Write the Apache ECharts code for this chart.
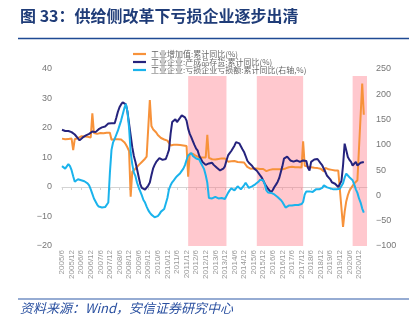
<!DOCTYPE html>
<html><head><meta charset="utf-8">
<script src="https://cdn.jsdelivr.net/npm/echarts@6/dist/echarts.min.js"></script>
<style>html,body{margin:0;padding:0;background:#fff}#c{width:412px;height:329px}</style>
</head><body><div id="c"></div>
<script>
// Monthly categories 2005/6 .. 2021/5
var firstYear = 2005, firstMonth = 6, monthCount = 192;
var categories = [];
for (var k = 0; k < monthCount; k++) {
  var mm = firstMonth - 1 + k;
  categories.push((firstYear + Math.floor(mm / 12)) + '/' + (mm % 12 + 1));
}

// 工业增加值:累计同比 (%)  — from 2005/6
var ivaCum = [
  16.4,16.3,16.2,16.3,16.3,16.4,16.4,
  12.5,16.2,16.7,16.6,16.9,17.2,17.2,17.1,17.0,17.0,16.8,16.8,
  25.0,18.3,18.3,18.0,18.1,18.3,18.4,18.2,18.4,18.4,18.4,18.4,
  16.0,15.8,16.2,16.2,16.2,16.2,16.1,15.7,15.2,14.4,13.4,12.2,
  -3.3,5.2,5.6,6.2,6.8,7.4,8.0,8.5,9.0,9.6,10.3,10.9,
  29.5,20.7,19.6,19.1,18.5,17.6,17.0,16.6,16.3,16.1,15.8,15.7,
  null,14.1,14.4,14.3,14.2,14.3,14.2,14.2,14.2,14.1,14.0,13.9,
  3.5,11.4,11.6,11.2,10.7,10.5,10.3,10.1,10.0,10.0,10.0,10.0,
  17.7,9.9,9.5,9.4,9.4,9.3,9.4,9.5,9.6,9.7,9.7,9.7,
  null,8.6,8.7,8.7,8.7,8.8,8.8,8.5,8.5,8.4,8.3,8.3,
  null,6.8,6.4,6.2,6.2,6.3,6.3,6.3,6.2,6.1,6.1,6.1,
  null,5.4,5.8,5.8,5.9,6.0,6.0,6.0,6.0,6.0,6.0,6.0,
  null,6.3,6.8,6.7,6.7,6.9,6.8,6.7,6.7,6.7,6.6,6.6,
  15.5,7.2,6.8,6.9,6.9,6.7,6.6,6.5,6.4,6.4,6.3,6.2,
  null,5.3,6.5,6.2,6.0,6.0,5.8,5.6,5.6,5.6,5.6,5.7,
  null,-13.5,-8.4,-4.9,-2.8,-1.3,-0.4,0.4,1.2,1.8,2.3,2.8,
  null,35.1,24.5
];

// 工业企业:产成品存货:累计同比 (%)
var inventoryCum = [
  19.4,19.2,19.0,18.8,19.0,19.3,18.6,
  18.2,17.8,17.2,16.5,15.8,16.4,16.8,17.0,17.5,17.8,18.0,18.4,
  18.8,18.5,18.6,18.8,19.6,20.0,20.2,20.3,20.5,20.5,21.5,22.1,
  21.6,21.3,21.6,23.5,25.5,27.0,28.0,28.7,28.5,28.0,25.5,21.5,
  17.5,13.5,10.5,8.5,6.0,3.5,1.0,-0.3,-0.8,-0.9,-0.5,0.5,
  1.5,4.0,6.2,7.5,8.5,9.0,9.8,9.6,9.2,9.0,9.5,11.0,
  12.6,18.0,22.0,22.5,23.0,22.0,22.2,23.5,24.3,24.0,23.6,22.5,
  19.8,18.0,16.8,15.5,14.2,13.0,12.3,10.5,9.5,8.5,8.0,7.5,
  7.3,8.0,8.6,8.2,7.5,6.9,6.5,6.0,5.6,5.6,6.2,7.0,
  9.0,10.7,11.5,12.2,12.5,14.0,15.2,15.6,14.8,13.8,12.8,11.9,
  10.5,9.0,8.2,8.0,7.2,6.4,6.0,5.5,5.0,4.0,3.3,2.2,
  1.1,0.2,-0.6,-1.2,-1.8,-1.0,0.0,0.8,1.7,3.0,5.0,7.0,
  9.6,10.0,10.3,10.0,9.0,8.5,8.6,9.0,9.0,8.6,8.5,9.0,
  9.0,8.5,8.8,6.5,5.6,8.5,9.0,9.3,9.4,9.5,9.4,8.0,
  7.3,7.3,5.0,3.8,3.2,2.6,1.6,1.0,1.1,0.6,0.0,0.0,
  2.0,7.3,14.7,12.5,10.2,9.2,8.5,7.3,7.8,8.5,7.3,7.5,
  8.2,8.5,8.5
];

// 工业企业:亏损企业亏损额:累计同比 (右轴, %)
var lossCum = [
  58,55,53,56,62,58,50,
  38,27,30,32,31,30,29,28,26,24,20,12,
  3,-6,-12,-18,-22,-24,-24,-23,-23,-21,-14,45,
  90,105,112,120,128,138,148,160,172,181,165,134,
  85,62,45,38,25,16,8,0,-9,-14,-22,-29,
  -34,-38,-41,-43,-42,-41,-37,-32,-29,-27,-24,-5,
  12,20,26,30,34,38,41,44,47,53,60,70,
  79,82,84,78,76,73,70,71,64,58,52,40,
  25,-5,-7,-6,-5,-3,-4,-6,-6,-5,-5,-7,
  -6,5,10,14,12,10,13,18,16,12,15,20,
  25,20,15,16,18,20,22,24,27,31,34,30,
  22,10,6,5,5,3,2,1,-3,-6,-9,-13,
  -16,-24,-23,-20,-20,-20,-19,-19,-19,-19,-19,-17,
  -13,2,8,10,8,7,7,9,12,12,12,13,
  15,20,19,16,15,14,13,12,12,12,13,13,
  16,24,35,43,40,36,33,30,22,12,5,-6,
  -14,-26,-34
];

// Shaded periods (start, end category)
var shadeStart = ['2012/1', '2015/8', '2020/8'];
var shadeEnd   = ['2014/1', '2018/1', '2021/5'];

var leftTicks = {min: -20, max: 40, interval: 10};
var rightTicks = {min: -100, max: 250, interval: 50};

var names = ['工业增加值:累计同比(%)', '工业企业:产成品存货:累计同比(%)', '工业企业:亏损企业亏损额:累计同比(右轴,%)'];

var shadeTop = 37.6;
var areas = shadeStart.map(function (s, i) {
  return [{xAxis: s, yAxis: leftTicks.min}, {xAxis: shadeEnd[i], yAxis: shadeTop}];
});

function minusFmt(v) { return String(v).replace('-', '\u2212'); }

var chart = echarts.init(document.getElementById('c'), null, {renderer: 'canvas'});
chart.setOption({
  animation: false,
  backgroundColor: '#fff',
  grid: {left: 62, right: 45, top: 69, bottom: 83, containLabel: false},
  legend: {
    orient: 'vertical', left: 133, top: 50, itemGap: 0, padding: 0,
    itemWidth: 13, itemHeight: 2.2, icon: 'rect',
    data: names,
    textStyle: {fontSize: 8, color: '#666', lineHeight: 7,
      fontFamily: '"Noto Sans CJK SC", sans-serif'}
  },
  xAxis: [{
    type: 'category', data: categories, boundaryGap: false, position: 'bottom',
    axisLine: {onZero: true, lineStyle: {color: '#d4d4d4', width: 1}},
    axisTick: {show: true, interval: 5, length: 3, lineStyle: {color: '#d4d4d4'}},
    axisLabel: {show: false}, splitLine: {show: false}
  }, {
    type: 'category', data: categories, boundaryGap: false, position: 'bottom',
    axisLine: {show: false, onZero: false}, axisTick: {show: false},
    axisLabel: {interval: 5, rotate: 90, fontSize: 8, color: '#999', margin: 4,
      fontFamily: 'Liberation Sans, Arial, sans-serif'},
    splitLine: {show: false}
  }],
  yAxis: [{
    type: 'value', min: leftTicks.min, max: leftTicks.max, interval: leftTicks.interval,
    axisLine: {show: false}, axisTick: {show: false}, splitLine: {show: false},
    axisLabel: {fontSize: 9, color: '#777', margin: 10, formatter: minusFmt,
      fontFamily: 'Liberation Sans, Arial, sans-serif'}
  }, {
    type: 'value', min: rightTicks.min, max: rightTicks.max, interval: rightTicks.interval,
    axisLine: {show: false}, axisTick: {show: false}, splitLine: {show: false},
    axisLabel: {fontSize: 9, color: '#777', margin: 9, formatter: minusFmt,
      fontFamily: 'Liberation Sans, Arial, sans-serif'}
  }],
  series: [{
    name: names[0], type: 'line', data: ivaCum, yAxisIndex: 0, xAxisIndex: 0,
    showSymbol: false, connectNulls: true, z: 3,
    lineStyle: {color: '#f7923a', width: 2}, itemStyle: {color: '#f7923a'}
  }, {
    name: names[1], type: 'line', data: inventoryCum, yAxisIndex: 0, xAxisIndex: 0,
    showSymbol: false, connectNulls: true, z: 4,
    lineStyle: {color: '#25237d', width: 2}, itemStyle: {color: '#25237d'}
  }, {
    name: names[2], type: 'line', data: lossCum, yAxisIndex: 1, xAxisIndex: 0,
    showSymbol: false, connectNulls: true, z: 5,
    lineStyle: {color: '#1ab3ec', width: 2}, itemStyle: {color: '#1ab3ec'}
  }, {
    name: 'shade', type: 'line', data: [], yAxisIndex: 0, xAxisIndex: 0, z: 8, silent: true,
    markArea: {silent: true, itemStyle: {color: 'rgba(255,118,132,0.4)'}, data: areas}
  }],
  graphic: [
    {type: 'text', left: 20, top: 8, style: {text: '图 33：供给侧改革下亏损企业逐步出清',
      fill: '#1f3c78', font: 'bold 16px "Noto Sans CJK SC", sans-serif'}},
    {type: 'line', shape: {x1: 18, y1: 38.5, x2: 409, y2: 38.5}, style: {stroke: '#1f4a94', lineWidth: 1.5}},
    {type: 'line', shape: {x1: 18, y1: 299, x2: 409, y2: 299}, style: {stroke: '#2e5aa8', lineWidth: 1.2}},
    {type: 'text', left: 20, top: 302, style: {text: '资料来源：Wind，安信证券研究中心',
      fill: '#2a50a0', font: 'italic 13px "Noto Sans CJK SC", sans-serif'}}
  ]
});
</script>
</body></html>
